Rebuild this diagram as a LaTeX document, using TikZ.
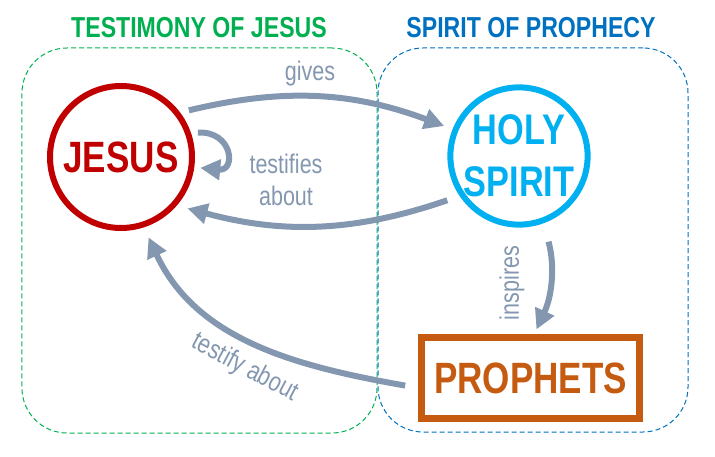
\documentclass[tikz,border=0pt]{standalone}
\usepackage{fontspec}
\setmainfont{Liberation Sans}[FakeStretch=0.8]
\usepackage{xcolor}
\definecolor{jesusred}{RGB}{192, 0, 0}
\definecolor{spiritblue}{RGB}{0, 176, 240}
\definecolor{prophetorange}{RGB}{197, 90, 17}
\definecolor{flowgray}{RGB}{132, 151, 176}
\definecolor{groupgreen}{RGB}{0, 176, 80}
\definecolor{groupblue}{RGB}{0, 112, 192}
\usepackage{tikz}
\usetikzlibrary{arrows.meta}

\begin{document}
\begin{tikzpicture}[
  x=1bp, y=1bp,
  grouptitle/.style={font=\fontsize{29}{32}\selectfont\bfseries, anchor=base},
  groupframe/.style={rectangle, line width=1bp, dash pattern=on 5bp off 3bp, rounded corners=45bp, inner sep=0pt, outer sep=0pt},
  person/.style={circle, line width=6bp, fill=white, align=center, inner sep=0pt, font=\fontsize{44}{52}\selectfont\bfseries},
  prophetbox/.style={rectangle, draw=prophetorange, line width=7bp, fill=white, text=prophetorange, minimum width=218bp, minimum height=81bp, font=\fontsize{44}{48}\selectfont\bfseries},
  flow/.style={-{Triangle[length=20bp, width=20bp]}, line width=6bp, color=flowgray},
  flowlabel/.style={font=\fontsize{27}{32}\selectfont, text=flowgray, align=center}
]
\useasboundingbox (0,0) rectangle (715,-457);

% groups
\node[groupframe, draw=groupgreen, minimum width=355bp, minimum height=385bp] (testimony) at (199.5,-240.5) {};
\node[groupframe, draw=groupblue, minimum width=310bp, minimum height=384bp] (prophecy) at (533,-240) {};
\node[grouptitle, text=groupgreen] (testimonytitle) at (199,-38) {TESTIMONY OF JESUS};
\node[grouptitle, text=groupblue] (prophecytitle) at (531,-38) {SPIRIT OF PROPHECY};

% actors
\node[person, draw=jesusred, text=jesusred, minimum size=142bp] (jesus) at (121,-157) {JESUS};
\node[person, draw=spiritblue, text=spiritblue, minimum size=134bp, font=\fontsize{43}{52}\selectfont\bfseries] (spirit) at (519,-156) {HOLY\\SPIRIT};
\node[prophetbox] (prophets) at (530.5,-378) {PROPHETS};

% relations
\draw[flow, shorten <=9bp, shorten >=9bp] (jesus.37) to[bend left=17] (spirit.158);
\draw[flow, shorten <=13bp, shorten >=11bp] (spirit.214) to[bend left=17] (jesus.-41);
\draw[flow, shorten <=7bp, shorten >=6bp] (jesus.19) .. controls +(42,2) and +(42,-4) .. (jesus.-8);
\draw[flow, shorten <=19bp, shorten >=5bp] (spirit.-70) to[bend left=20] (prophets.85);
\draw[flow, shorten <=13bp, shorten >=11bp] (prophets.185) to[out=170, in=-65] (jesus.-72);

% labels
\node[flowlabel] (giveslabel) at (310,-74) {gives};
\node[flowlabel] (testifieslabel) at (286,-180) {testifies\\about};
\node[flowlabel, rotate=90] (inspireslabel) at (512,-283) {inspires};
\node[flowlabel, rotate=-28] (testifylabel) at (245,-368) {testify about};
\end{tikzpicture}
\end{document}
